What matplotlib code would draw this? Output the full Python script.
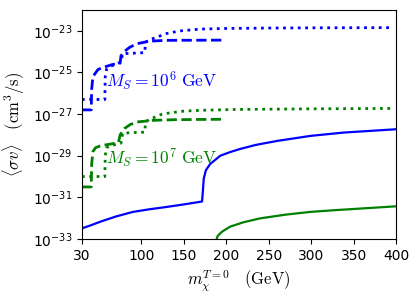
import numpy as np
import matplotlib
matplotlib.use("Agg")
import matplotlib.pyplot as plt

plt.rcParams['mathtext.fontset'] = 'cm'

# ---- data (x in GeV, y as log10 of <sigma v> in cm^3/s) ----
blue_dashed_x = [30, 41, 41.5, 43, 49, 55, 66, 75, 76, 80, 86, 95, 110, 130, 196]
blue_dashed_ly = [-26.8, -26.8, -25.8, -25.2, -24.86, -24.76, -24.62, -24.56, -24.2, -24.0, -23.8, -23.62, -23.5, -23.46, -23.45]

blue_dotted_x = [30, 57, 57.5, 59, 63, 70, 76, 78, 90, 104, 105, 110, 114, 130, 145, 169, 200, 250, 300, 395]
blue_dotted_ly = [-26.3, -26.3, -25.2, -24.85, -24.72, -24.6, -24.5, -24.1, -24.08, -24.05, -23.55, -23.42, -23.37, -23.13, -23.01, -22.92, -22.89, -22.87, -22.86, -22.85]

green_dashed_x = [30, 41, 41.5, 43, 46, 52, 64, 73, 75, 80, 87, 95, 115, 140, 196]
green_dashed_ly = [-30.5, -30.5, -29.4, -28.8, -28.62, -28.52, -28.44, -28.37, -28.0, -27.7, -27.5, -27.38, -27.3, -27.27, -27.25]

green_dotted_x = [30, 57, 57.5, 59, 64, 70, 76, 78, 90, 104, 105, 110, 114, 124, 134, 150, 170, 210, 300, 395]
green_dotted_ly = [-30.0, -30.0, -29.0, -28.62, -28.52, -28.46, -28.4, -27.92, -27.89, -27.87, -27.4, -27.22, -27.18, -27.01, -26.94, -26.86, -26.82, -26.78, -26.75, -26.73]

blue_solid_x = [30, 40, 51, 70, 90, 110, 130, 150, 171.5, 172.5, 173.5, 176, 181, 193, 205, 216, 235, 260, 299, 338, 400]
blue_solid_ly = [-32.49, -32.35, -32.18, -31.92, -31.7, -31.57, -31.46, -31.34, -31.2, -30.7, -30.1, -29.7, -29.4, -29.0, -28.82, -28.68, -28.48, -28.29, -28.05, -27.89, -27.73]

green_solid_x = [186, 190, 195, 204.4, 220, 239.8, 270, 298.7, 330, 357.6, 400]
green_solid_ly = [-33.3, -32.85, -32.65, -32.41, -32.2, -32.01, -31.83, -31.7, -31.61, -31.54, -31.43]

x_ticks = [30, 100, 150, 200, 250, 300, 350, 400]
y_ticks = [1e-33, 1e-31, 1e-29, 1e-27, 1e-25, 1e-23]

fig = plt.figure(figsize=(4.2, 3.01), dpi=100)
ax = fig.add_axes([0.195, 0.206, 0.748, 0.761])

def p(xs, lys):
    return np.array(xs), 10.0 ** np.array(lys)

ax.plot(*p(blue_dashed_x, blue_dashed_ly), color='blue', ls='--', lw=2)
ax.plot(*p(blue_dotted_x, blue_dotted_ly), color='blue', ls=':', lw=2)
ax.plot(*p(green_dashed_x, green_dashed_ly), color='green', ls='--', lw=2)
ax.plot(*p(green_dotted_x, green_dotted_ly), color='green', ls=':', lw=2)
ax.plot(*p(blue_solid_x, blue_solid_ly), color='blue', ls='-', lw=1.6)
ax.plot(*p(green_solid_x, green_solid_ly), color='green', ls='-', lw=1.6)

ax.set_yscale('log')
ax.set_xlim(30, 400)
ax.set_ylim(1e-33, 1e-22)
ax.set_xticks(x_ticks)
ax.set_xticklabels([str(t) for t in x_ticks])
ax.set_yticks(y_ticks)
ax.yaxis.set_minor_locator(matplotlib.ticker.NullLocator())
ax.tick_params(labelsize=10)

ax.text(58.0, 10 ** -25.43, r'$M_S = 10^6\ \mathrm{GeV}$', color='blue', fontsize=12.5, va='center', ha='left')
ax.text(58.0, 10 ** -29.1, r'$M_S = 10^7\ \mathrm{GeV}$', color='green', fontsize=12.5, va='center', ha='left')

ax.set_xlabel(r'$m_\chi^{T=0}\quad(\mathrm{GeV})$', fontsize=12)
ax.set_ylabel(r'$\langle\sigma v\rangle\quad(\mathrm{cm}^3/\mathrm{s})$', fontsize=12)

fig.savefig('out.png', dpi=100)
